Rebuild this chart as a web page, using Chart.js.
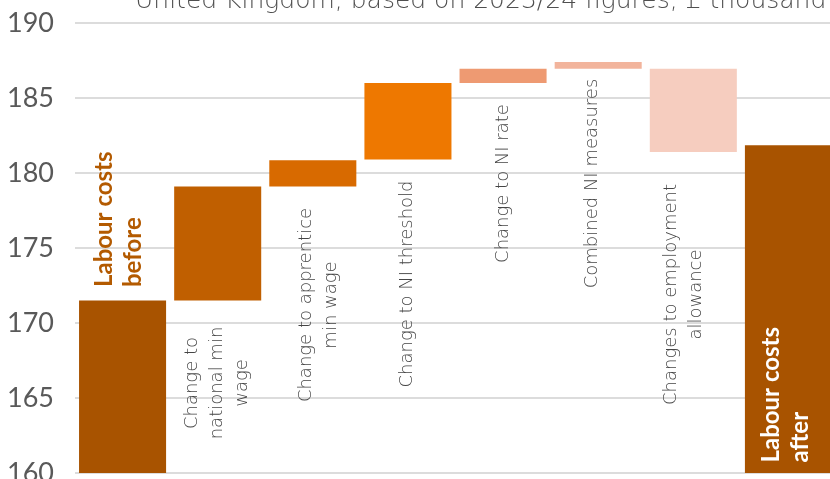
<!DOCTYPE html>
<html>
<head>
<meta charset="utf-8">
<script src="https://cdn.jsdelivr.net/npm/chart.js@4"></script>
<style>
  html, body { margin: 0; padding: 0; overflow: hidden; background: #fff; }
  #wrap { width: 840px; height: 479px; }
</style>
</head>
<body>
<div id="wrap"><canvas id="myChart" width="840" height="479"></canvas></div>
<script>
// Employer labour cost per worker, £ thousand
const chartTitle = 'United Kingdom, based on 2023/24 figures, £ thousand';
const categories = [
    ['Labour costs', 'before'],
    ['Change to', 'national min', 'wage'],
    ['Change to apprentice', 'min wage'],
    ['Change to NI threshold'],
    ['Change to NI rate'],
    ['Combined NI measures'],
    ['Changes to employment', 'allowance'],
    ['Labour costs', 'after']
];
const barFrom = [0, 171.5, 179.1, 180.9, 186.0, 186.95, 186.95, 0];
const barTo = [171.5, 179.1, 180.85, 186.0, 186.95, 187.4, 181.4, 181.85];
const yTicks = [160, 165, 170, 175, 180, 185, 190];

const barColours = ['#A85300', '#C05F00', '#D86A00', '#EE7800', '#EE9A72', '#F2B49C', '#F6CDBF', '#A85300'];

// where each category label sits (y value), how it is aligned, and a small x nudge
const labelAt = [172.4, 166.0, 171.2, 172.6, 179.3, 179.3, 171.9, 160.7];
const labelAlign = ['left', 'center', 'center', 'center', 'center', 'center', 'center', 'left'];
const labelNudge = [-4, 0, 6, -1, 0, -6, -9, -3];
const isTotal = [true, false, false, false, false, false, false, true];

const FONT = 'Lato, "Open Sans", sans-serif';
const TEXT_FONT = '"DejaVu Sans", sans-serif';
const GREY = '#595959';

const titlePlugin = {
    id: 'topTitle',
    afterDraw(chart) {
        const ctx = chart.ctx;
        ctx.save();
        ctx.fillStyle = '#4F4F4F';
        ctx.font = '300 25px ' + TEXT_FONT;
        ctx.textAlign = 'left';
        ctx.textBaseline = 'alphabetic';
        ctx.fillText(chartTitle, 135, 8);
        ctx.restore();
    }
};

const barLabels = {
    id: 'barLabels',
    afterDatasetsDraw(chart) {
        const ctx = chart.ctx;
        const meta = chart.getDatasetMeta(0);
        const y = chart.scales.y;
        ctx.save();
        meta.data.forEach((bar, i) => {
            const lines = categories[i];
            const total = isTotal[i];
            const lineH = total ? 29 : 25;
            ctx.font = total ? 'bold 24px ' + FONT : '300 18px ' + TEXT_FONT;
            ctx.fillStyle = i === 0 ? '#B35A00' : (total ? '#FFFFFF' : '#454545');
            ctx.textAlign = labelAlign[i];
            ctx.textBaseline = 'middle';
            const cx = bar.x + labelNudge[i];
            const cy = y.getPixelForValue(labelAt[i]);
            ctx.save();
            ctx.translate(cx, cy);
            ctx.rotate(-Math.PI / 2);
            lines.forEach((txt, k) => {
                const off = (k - (lines.length - 1) / 2) * lineH;
                ctx.fillText(txt, 0, off);
            });
            ctx.restore();
        });
        ctx.restore();
    }
};

const ctx = document.getElementById('myChart').getContext('2d');
const myChart = new Chart(ctx, {
    type: 'bar',
    data: {
        labels: categories,
        datasets: [{
            data: categories.map((c, i) => [barFrom[i], barTo[i]]),
            backgroundColor: barColours,
            borderWidth: 0,
            barPercentage: 0.915,
            categoryPercentage: 1
        }]
    },
    options: {
        responsive: false,
        animation: false,
        layout: { padding: { top: 23, right: 4, bottom: 6, left: 0 } },
        plugins: {
            legend: { display: false },
            tooltip: { enabled: false }
        },
        scales: {
            x: { display: false, offset: true },
            y: {
                min: 160,
                max: 190,
                afterFit(scale) {
                    scale.width = 75;
                    scale.paddingTop = 0;
                    scale.paddingBottom = 0;
                },
                afterBuildTicks(scale) { scale.ticks = yTicks.map(v => ({ value: v })); },
                border: { display: false },
                grid: { color: '#DCDCDC', lineWidth: 2, drawTicks: false },
                ticks: {
                    padding: 21,
                    color: GREY,
                    font: { family: FONT, size: 27 }
                }
            }
        }
    },
    plugins: [titlePlugin, barLabels]
});
</script>
</body>
</html>
